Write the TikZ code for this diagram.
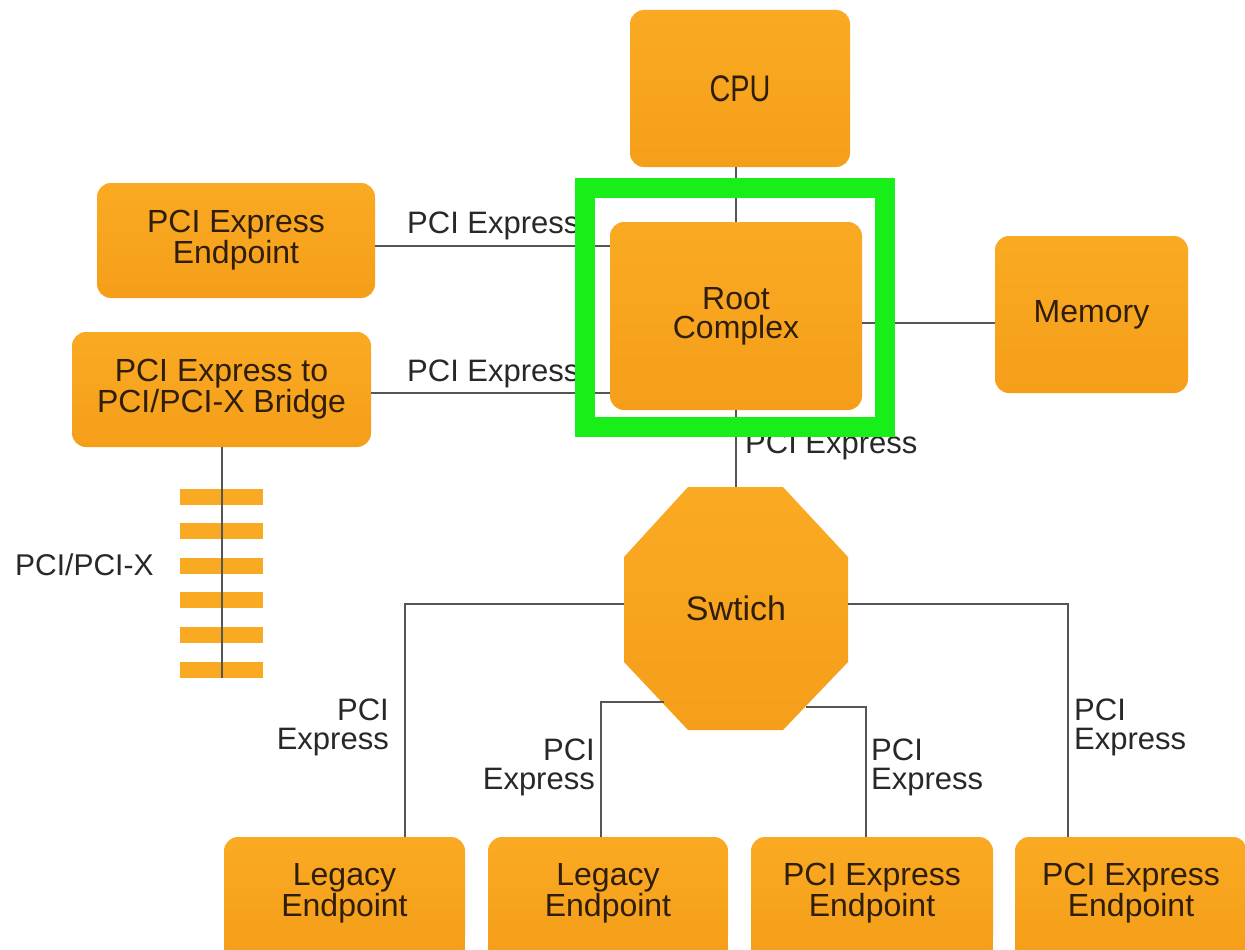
\documentclass[tikz,border=0pt]{standalone}
\usepackage{fontspec}
\setmainfont{Liberation Sans}
\usetikzlibrary{calc}
\definecolor{boxtop}{RGB}{250,170,34}
\definecolor{boxbot}{RGB}{245,158,26}
\definecolor{boxtext}{RGB}{48,30,12}
\definecolor{labtext}{RGB}{40,40,40}
\definecolor{wirec}{RGB}{85,85,85}
\definecolor{framec}{RGB}{24,238,24}
\tikzset{
  box/.style={draw=none, rounded corners=14pt, top color=boxtop, bottom color=boxbot,
    inner sep=0pt, align=center, text=boxtext, font=\fontsize{32}{29}\selectfont},
  busbar/.style={draw=none, fill=boxtop, inner sep=0pt, minimum width=83pt, minimum height=16pt},
  wire/.style={draw=wirec, line width=2pt},
  lab/.style={inner sep=0pt, text=labtext, font=\fontsize{31}{29}\selectfont},
  hilite/.style={draw=framec, line width=20pt}
}
\begin{document}
\begin{tikzpicture}[x=1pt,y=-1pt]
\useasboundingbox (0,0) rectangle (1245,950);
\clip (0,0) rectangle (1245,950);
\fill[white] (0,0) rectangle (1245,950);

% boxes
\node[box, minimum width=220pt, minimum height=157pt] (cpu) at (740,88.5)
  {\fontsize{37}{30}\selectfont\scalebox{0.78}[1]{CPU}};
\node[box, minimum width=278pt, minimum height=115pt] (pcie1) at (236,240.5) {PCI Express\\Endpoint};
\node[box, minimum width=299pt, minimum height=115pt] (bridge) at (221.5,389.5) {PCI Express to\\PCI/PCI-X Bridge};
\node[box, minimum width=252pt, minimum height=188pt] (root) at (736,316) {Root\\Complex};
\node[box, minimum width=193pt, minimum height=157pt] (mem) at (1091.5,314.5) {Memory};

% bottom boxes (cut by the lower edge)
\fill[boxbot] (224,920) rectangle (465,960);
\fill[boxbot] (488,920) rectangle (728,960);
\fill[boxbot] (751,920) rectangle (993,960);
\fill[boxbot] (1015,920) rectangle (1245,960);
\node[box, minimum width=241pt, minimum height=113pt] (le1) at (344.5,893.5) {Legacy\\Endpoint};
\node[box, minimum width=240pt, minimum height=113pt] (le2) at (608,893.5) {Legacy\\Endpoint};
\node[box, minimum width=242pt, minimum height=113pt] (pe3) at (872,893.5) {PCI Express\\Endpoint};
\node[box, minimum width=232pt, minimum height=113pt] (pe4) at (1131,893.5) {PCI Express\\Endpoint};

% switch
\path[top color=boxtop, bottom color=boxbot] (688,487) -- (783,487) -- (848,557) -- (848,662)
  -- (783,730) -- (688,730) -- (624,662) -- (624,557) -- cycle;
\node[inner sep=0pt, minimum width=224pt, minimum height=243pt, text=boxtext,
  font=\fontsize{34}{30}\selectfont] (sw) at (736,608.5) {Swtich};

% PCI/PCI-X bus bars
\node[busbar] (bar1) at (221.5,496.5) {};
\node[busbar] (bar2) at (221.5,531) {};
\node[busbar] (bar3) at (221.5,566) {};
\node[busbar] (bar4) at (221.5,600) {};
\node[busbar] (bar5) at (221.5,634.5) {};
\node[busbar] (bar6) at (221.5,669.5) {};
\draw[wire] (bridge.south) -- (bar6.south);

% coordinates for wire routing
\coordinate (y1) at (0,246);
\coordinate (y2) at (0,393);
\coordinate (y3) at (0,323);
\coordinate (c1) at (405,604);
\coordinate (c4) at (1068,604);
\coordinate (s2) at (664,702);
\coordinate (c2) at (601,702);
\coordinate (s3) at (806,707);
\coordinate (c3) at (866,707);

% wires
\draw[wire] (root.north) -- (root.north |- cpu.south);
\draw[wire] (pcie1.east |- y1) -- (root.west |- y1);
\draw[wire] (bridge.east |- y2) -- (root.west |- y2);
\draw[wire] (root.east |- y3) -- (mem.west |- y3);
\draw[wire] (root.south) -- (sw.north);
\draw[wire] (sw.west |- c1) -- (c1) -- (c1 |- le1.north);
\draw[wire] (sw.east |- c4) -- (c4) -- (c4 |- pe4.north);
\draw[wire] (s2) -- (c2) -- (c2 |- le2.north);
\draw[wire] (s3) -- (c3) -- (c3 |- pe3.north);

% labels
\node[lab, anchor=base west] (l1) at (407,233) {PCI Express};
\node[lab, anchor=base west] (l2) at (407,381) {PCI Express};
\node[lab, anchor=base west] (l3) at (745,453) {PCI Express};
\node[lab, anchor=base west, font=\fontsize{30}{28}\selectfont] (l4) at (15,575) {PCI/PCI-X};
\node[lab, anchor=east, align=right] (l5) at (389,727) {PCI\\Express};
\node[lab, anchor=east, align=right] (l6) at (595,767) {PCI\\Express};
\node[lab, anchor=west, align=left] (l7) at (871,767) {PCI\\Express};
\node[lab, anchor=west, align=left] (l8) at (1074,727) {PCI\\Express};

% highlight frame around root complex
\draw[hilite] (585,188) rectangle (885,427);
\end{tikzpicture}
\end{document}
